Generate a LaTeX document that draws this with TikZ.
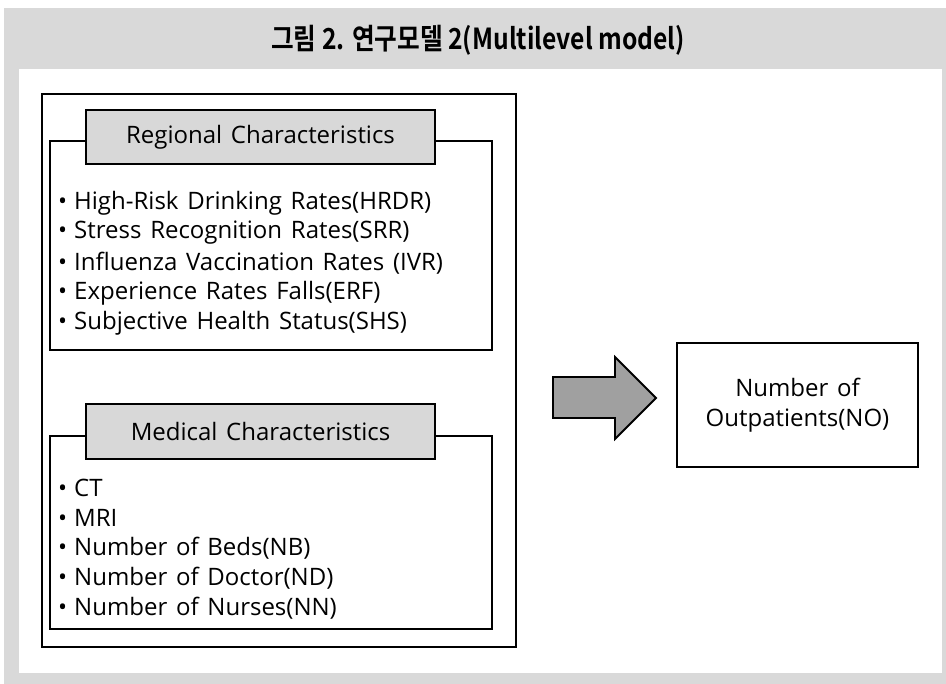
\documentclass[tikz,border=0pt]{standalone}
\usepackage{fontspec}
\setmainfont[WordSpace=1.4]{Open Sans}
\newfontfamily\titlefont[FakeStretch=0.85]{Noto Sans CJK KR Bold}
\newcommand{\bul}{•\kern7pt}
\begin{document}
\begin{tikzpicture}[x=1pt,y=-1pt,
  frame/.style={draw=black,line width=2pt},
  inner/.style={draw=black,line width=1.4pt},
  header/.style={draw=black,line width=1.8pt,fill=hdr},
  body/.style={anchor=west,inner sep=0pt,font=\fontsize{24}{26}\selectfont},
  hdrtext/.style={inner sep=0pt,font=\fontsize{24}{26}\selectfont},
  bigarrow/.style={draw=black,line width=1.8pt,fill=arr,line join=miter}
]
\definecolor{bg}{HTML}{D9D9D9}
\definecolor{hdr}{HTML}{D8D8D8}
\definecolor{arr}{HTML}{A0A0A0}
\useasboundingbox (0,0) rectangle (946,684);
\fill[white] (0,0) rectangle (946,684);
\fill[bg] (4,8) rectangle (946,684);
\fill[white] (19,69) rectangle (942,673);
\node[font=\titlefont\fontsize{29}{32}\selectfont,inner sep=0pt] (title) at (478,40) {그림 2. 연구모델 2(Multilevel model)};
% outer frame
\draw[frame] (42,94) rectangle (516,647);
% regional
\draw[inner] (50,141) rectangle (492,350);
\node[header,minimum width=349pt,minimum height=54pt,inner sep=0pt] (rhead) at (260.5,137) {};
\node[hdrtext] (rtitle) at (rhead.center) {Regional Characteristics};
\node[body] (r1) at (58,203) {\bul High-Risk Drinking Rates(HRDR)};
\node[body] (r2) at (58,233) {\bul Stress Recognition Rates(SRR)};
\node[body] (r3) at (58,263) {\bul Influenza Vaccination Rates (IVR)};
\node[body] (r4) at (58,293) {\bul Experience Rates Falls(ERF)};
\node[body] (r5) at (58,323) {\bul Subjective Health Status(SHS)};
% medical
\draw[inner] (50,436) rectangle (492,629);
\node[header,minimum width=349pt,minimum height=55pt,inner sep=0pt] (mhead) at (260.5,431.5) {};
\node[hdrtext] (mtitle) at (mhead.center) {Medical Characteristics};
\node[body] (m1) at (58,488) {\bul CT};
\node[body] (m2) at (58,518) {\bul MRI};
\node[body] (m3) at (58,548) {\bul Number of Beds(NB)};
\node[body] (m4) at (58,578) {\bul Number of Doctor(ND)};
\node[body] (m5) at (58,608) {\bul Number of Nurses(NN)};
% arrow
\draw[bigarrow] (553,377) -- (615,377) -- (615,357) -- (656,398) -- (615,439) -- (615,418) -- (553,418) -- cycle;
% output
\node[draw=black,line width=1.5pt,minimum width=241pt,minimum height=124pt,inner sep=0pt,align=center,font=\fontsize{24}{30}\selectfont] (out) at (797.5,405) {Number of\\Outpatients(NO)};
\end{tikzpicture}
\end{document}
